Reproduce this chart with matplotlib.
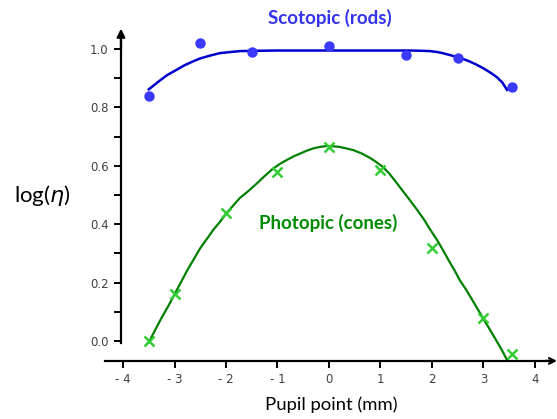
import matplotlib
matplotlib.use("Agg")
import matplotlib.pyplot as plt

# ===== DATA =====
# measured points
rod_x = [-3.5, -2.5, -1.5, 0.0, 1.5, 2.5, 3.55]
rod_y = [0.84, 1.02, 0.99, 1.01, 0.98, 0.97, 0.87]

cone_x = [-3.5, -3.0, -2.0, -1.0, 0.0, 1.0, 2.0, 3.0, 3.55]
cone_y = [0.0, 0.16, 0.44, 0.58, 0.665, 0.585, 0.32, 0.08, -0.045]

# fitted curves
rod_fit_x = [-3.5, -3.3, -3.15, -2.95, -2.8, -2.65, -2.5, -2.3, -2.12, -1.9, -1.73, -1.4, -1.0, 0.0, 1.0, 1.6,
             1.8, 1.96, 2.1, 2.21, 2.38, 2.54, 2.7, 2.85, 2.99, 3.13, 3.26, 3.37, 3.46]
rod_fit_y = [0.862, 0.89, 0.91, 0.93, 0.945, 0.957, 0.968, 0.978, 0.986, 0.99, 0.993, 0.994, 0.995, 0.995, 0.995, 0.995,
             0.994, 0.993, 0.99, 0.986, 0.978, 0.97, 0.96, 0.948, 0.935, 0.92, 0.904, 0.885, 0.86]

cone_fit_x = [-3.5, -3.37, -3.25, -3.12, -3.0, -2.87, -2.75, -2.62, -2.5, -2.37, -2.25, -2.1, -1.98, -1.85, -1.73,
              -1.55, -1.4, -1.25, -1.09, -0.95, -0.8, -0.68, -0.56, -0.43, -0.3, -0.17, -0.04, 0.08, 0.2, 0.33,
              0.47, 0.63, 0.8, 0.92, 1.05, 1.18, 1.3, 1.43, 1.57, 1.71, 1.85, 1.97, 2.1, 2.22, 2.33, 2.44, 2.54,
              2.66, 2.77, 2.88, 2.99, 3.11, 3.23, 3.35, 3.46]
cone_fit_y = [-0.005, 0.04, 0.08, 0.12, 0.16, 0.203, 0.243, 0.282, 0.318, 0.35, 0.38, 0.412, 0.44, 0.466, 0.49,
              0.516, 0.54, 0.565, 0.59, 0.607, 0.622, 0.633, 0.642, 0.652, 0.66, 0.665, 0.668, 0.667, 0.665, 0.66,
              0.654, 0.643, 0.627, 0.613, 0.596, 0.572, 0.545, 0.515, 0.483, 0.45, 0.415, 0.381, 0.346, 0.31, 0.275,
              0.242, 0.209, 0.177, 0.145, 0.112, 0.079, 0.044, 0.008, -0.028, -0.065]

xticks = [-4, -3, -2, -1, 0, 1, 2, 3, 4]
xtick_labels = ["- 4", "- 3", "- 2", "- 1", "0", "1", "2", "3", "4"]
yticks = [0.0, 0.2, 0.4, 0.6, 0.8, 1.0]
ytick_labels = ["0.0", "0.2", "0.4", "0.6", "0.8", "1.0"]
yminor = [0.1, 0.3, 0.5, 0.7, 0.9]

# ===== FIGURE =====
fig = plt.figure(figsize=(5.57, 4.19), dpi=100)
ax = fig.add_axes([0, 0, 1, 1])
ax.set_xlim(-6.39, 4.43)
ax.set_ylim(-0.267, 1.168)

# axes lines with arrows
y_axis_x = -4.04
x_axis_y = -0.068
for s in ["top", "right"]:
    ax.spines[s].set_visible(False)
ax.spines["left"].set_position(("data", y_axis_x))
ax.spines["left"].set_bounds(-0.007, 1.03)
ax.spines["bottom"].set_position(("data", x_axis_y))
ax.spines["bottom"].set_bounds(-4.35, 4.33)
ax.spines["left"].set_linewidth(1.6)
ax.spines["bottom"].set_linewidth(1.6)
ax.annotate("", xy=(y_axis_x, 1.07), xytext=(y_axis_x, 1.0),
            arrowprops=dict(arrowstyle="-|>", lw=1.6, color="black",
                            mutation_scale=12, shrinkA=0, shrinkB=0))
ax.annotate("", xy=(4.43, x_axis_y), xytext=(4.2, x_axis_y),
            arrowprops=dict(arrowstyle="->", lw=1.6, color="black",
                            mutation_scale=10, shrinkA=0, shrinkB=0))

ax.set_xticks(xticks)
ax.set_xticklabels(xtick_labels)
ax.set_yticks(yticks)
ax.set_yticklabels(ytick_labels)
ax.set_yticks(yminor, minor=True)
ax.tick_params(axis="both", which="both", length=5, width=1.4, direction="out",
               labelsize=8.5, labelcolor="#404040", pad=4)
for lab in ax.get_xticklabels() + ax.get_yticklabels():
    lab.set_family("DejaVu Sans")

# curves
ax.plot(rod_fit_x, rod_fit_y, color="#0000cc", lw=1.8, zorder=2)
ax.plot(rod_x, rod_y, "o", color="#3a3aff", markersize=6.5, zorder=3)
ax.plot(cone_fit_x, cone_fit_y, color="#008000", lw=1.6, zorder=2)
ax.plot(cone_x, cone_y, "x", color="#33cc33", markersize=7.5, mew=1.8, zorder=3)

# labels
ax.text(0.02, 1.106, "Scotopic (rods)", color="#3333ee", fontsize=13.5,
        fontweight="bold", family="Lato", ha="center", va="center")
ax.text(-0.02, 0.404, "Photopic (cones)", color="#008c00", fontsize=13.5,
        fontweight="bold", family="Lato", ha="center", va="center")
fig.text(331 / 557, 1 - 405 / 419, "Pupil point (mm)", fontsize=13.3,
         family="Lato", ha="center", va="center")
fig.text(42 / 557, 1 - 195 / 419, r"log($\eta$)", fontsize=16,
         family="Lato", ha="center", va="center")

fig.savefig("out.png", dpi=100)
